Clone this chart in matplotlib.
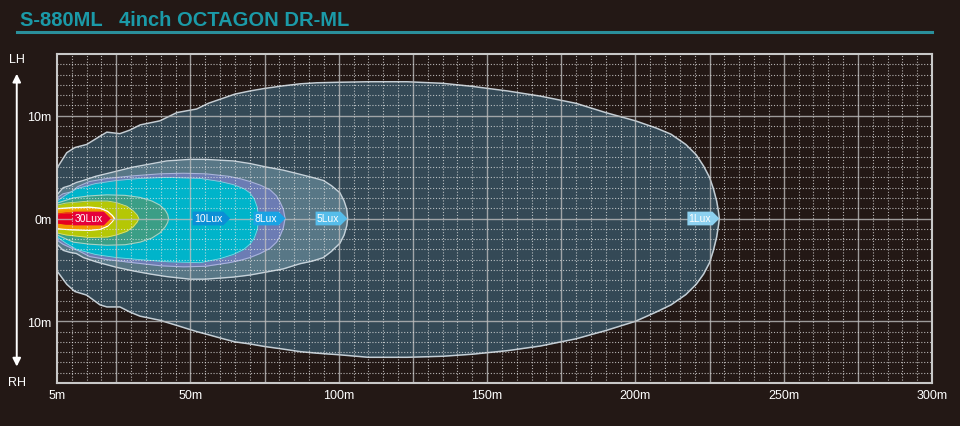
"""
Isolux chart of the S-880ML 4inch OCTAGON DR-ML lamp.
"""
import matplotlib
matplotlib.use("Agg")
import matplotlib.pyplot as plt
import numpy as np
from matplotlib.path import Path

plt.rcParams["font.family"] = ["Liberation Sans", "DejaVu Sans"]

BG = "#231815"
TEAL = "#1b9aa8"

# distance (m), left-hand (LH) and right-hand (RH) half width (m) of each isolux line
lux1_x = [5, 8.3, 11, 15, 19.5, 21.8, 26.2, 29.6, 33, 39.7, 45.4, 52.1, 56, 61, 65, 70, 75, 81.2,
          87, 92.6, 100, 110, 123, 135, 145, 157, 168, 180, 190, 200, 207, 212, 217, 220.5, 223,
          225, 226.3, 227.4, 228, 228.3]
lux1_lh = [4.9, 6.4, 6.9, 7.2, 8.0, 8.4, 8.25, 8.6, 9.1, 9.5, 10.3, 10.65, 11.2, 11.7, 12.1, 12.4,
           12.65, 12.9, 13.1, 13.2, 13.25, 13.3, 13.3, 13.15, 12.85, 12.4, 11.9, 11.2, 10.3, 9.5,
           8.8, 8.2, 7.2, 6.2, 5.1, 4.0, 2.9, 1.7, 0.7, 0]
lux1_rh = [5.1, 6.4, 7.1, 7.45, 8.4, 8.6, 8.6, 9.1, 9.5, 9.9, 10.4, 11.0, 11.3, 11.7, 12.0, 12.2,
           12.45, 12.7, 12.95, 13.1, 13.25, 13.5, 13.5, 13.4, 13.2, 12.85, 12.4, 11.7, 10.9, 10.0,
           9.1, 8.4, 7.4, 6.4, 5.4, 4.3, 3.1, 1.8, 0.7, 0]

lux5_x = [5, 7.1, 9.4, 11.5, 13.9, 18, 25.1, 30.7, 36.4, 42, 49.8, 55, 64.4, 70, 75.7, 81.3,
          86.9, 91, 94.8, 97.5, 100.4, 101.8, 102.7, 103]
lux5_lh = [2.3, 3.0, 3.2, 3.5, 3.7, 4.1, 4.6, 5.0, 5.3, 5.6, 5.75, 5.75, 5.6, 5.35, 5.0, 4.7,
           4.3, 4.0, 3.7, 3.2, 2.5, 1.7, 0.9, 0]
lux5_rh = [2.5, 3.1, 3.3, 3.4, 3.8, 4.2, 4.75, 5.1, 5.4, 5.65, 5.9, 5.9, 5.7, 5.5, 5.2, 4.9,
           4.4, 4.15, 3.8, 3.2, 2.4, 1.6, 0.7, 0]

lux8_x = [5, 7, 10, 12, 16, 22, 30.7, 40, 47.6, 55, 63, 67, 70, 73.5, 76.8, 79, 80.2, 81.3, 81.9]
lux8_lh = [2.0, 2.4, 2.6, 3.1, 3.6, 3.9, 4.15, 4.35, 4.4, 4.35, 4.1, 3.85, 3.6, 3.25, 2.8, 2.2,
           1.6, 0.9, 0]
lux8_rh = [2.1, 2.5, 2.9, 3.1, 3.7, 4.0, 4.3, 4.6, 4.7, 4.65, 4.3, 4.05, 3.8, 3.4, 2.9, 2.3,
           1.7, 0.9, 0]

lux10_x = [5, 8, 11.6, 18, 25.1, 33, 42, 53.2, 60, 64.4, 68, 70, 71.5, 72.5, 73]
lux10_lh = [1.7, 2.3, 2.9, 3.4, 3.7, 3.9, 4.0, 3.9, 3.6, 3.3, 2.9, 2.5, 1.9, 1.1, 0]
lux10_rh = [1.8, 2.4, 3.0, 3.5, 3.8, 4.0, 4.2, 4.3, 3.9, 3.5, 3.0, 2.5, 1.9, 1.1, 0]

lux15_x = [5, 10.5, 16, 21.8, 28, 33, 37, 39.7, 41.5, 42.3, 42.6]
lux15_lh = [1.5, 2.0, 2.2, 2.3, 2.25, 2.05, 1.7, 1.3, 0.8, 0.4, 0]
lux15_rh = [1.6, 2.3, 2.5, 2.6, 2.55, 2.3, 1.9, 1.4, 0.8, 0.4, 0]

lux20_x = [5, 8, 16, 22, 25, 28.5, 30.7, 32, 32.6]
lux20_lh = [1.3, 1.5, 1.7, 1.7, 1.55, 1.2, 0.75, 0.35, 0]
lux20_rh = [1.4, 1.6, 1.85, 1.8, 1.6, 1.25, 0.8, 0.35, 0]

lux25_x = [5, 10, 16, 19.5, 22, 23.6, 24.4]
lux25_lh = [0.95, 1.05, 1.1, 1.0, 0.7, 0.3, 0]
lux25_rh = [1.0, 1.1, 1.15, 1.05, 0.75, 0.3, 0]

lux27_x = [5, 10, 16, 19.5, 22, 23.4, 23.8]
lux27_lh = [0.82, 0.92, 0.97, 0.87, 0.57, 0.2, 0]
lux27_rh = [0.87, 0.97, 1.02, 0.92, 0.62, 0.2, 0]

lux30_x = [5, 8, 12, 16, 19, 20.5]
lux30_lh = [0.45, 0.55, 0.55, 0.5, 0.3, 0]
lux30_rh = [0.45, 0.55, 0.55, 0.5, 0.3, 0]

label_text = ["30Lux", "10Lux", "8Lux", "5Lux", "1Lux"]
label_tip = [23, 63.3, 81.9, 102.8, 228.2]
label_color = ["#e5003a", "#0b8fd6", "#1aa3e4", "#56bdea", "#8dd1f0"]

x_ticks = [5, 50, 100, 150, 200, 250, 300]
y_ticks = [-10, 0, 10]
y_tick_labels = ["10m", "0m", "10m"]


def pentagon(x0, y0, width, height, mutation_size):
    """Box with a pointed right end, used for the lux tags."""
    padx = 0.12 * mutation_size
    pady = 0.18 * mutation_size
    x0, y0 = x0 - padx, y0 - pady
    x1, y1 = x0 + width + 2 * padx, y0 + height + 2 * pady
    tip = 0.5 * (y1 - y0)
    return Path([(x0, y0), (x1, y0), (x1 + tip, (y0 + y1) / 2), (x1, y1), (x0, y1), (x0, y0)],
                closed=True)


layers = [
    (lux1_x, lux1_lh, lux1_rh, "#344956", "#c3cdd4", 1.1),
    (lux5_x, lux5_lh, lux5_rh, "#587786", "#c6d2da", 1.0),
    (lux8_x, lux8_lh, lux8_rh, "#6c7cb4", "#a9b3dc", 0.8),
    (lux10_x, lux10_lh, lux10_rh, "#00b4ca", "#7fd6e2", 0.6),
    (lux15_x, lux15_lh, lux15_rh, "#3b9e86", "#a6d3c6", 0.8),
    (lux20_x, lux20_lh, lux20_rh, "#b5c705", "#d8e080", 0.6),
    (lux25_x, lux25_lh, lux25_rh, "#f9d000", "#ffffff", 1.0),
    (lux27_x, lux27_lh, lux27_rh, "#f29600", "#f29600", 0.5),
    (lux30_x, lux30_lh, lux30_rh, "#e60020", "#e60020", 0.5),
]

fig = plt.figure(figsize=(9.6, 4.27), dpi=100, facecolor=BG)
ax = fig.add_axes([57 / 960, 1 - 384 / 427, 875 / 960, 329 / 427])
ax.set_facecolor(BG)
ax.set_xlim(5, 300)
ax.set_ylim(-16, 16)

for i, (x, lh, rh, fill, edge, lw) in enumerate(layers):
    x = np.asarray(x, float)
    lh = np.asarray(lh, float)
    rh = np.asarray(rh, float)
    ax.fill_between(x, -rh, lh, color=fill, lw=0, zorder=1 + i * 0.01)
    ax.plot(np.concatenate([x, x[::-1]]), np.concatenate([lh, -rh[::-1]]),
            color=edge, lw=lw, zorder=1.005 + i * 0.01, solid_joinstyle="round")

# grid on top of the light patterns
for v in np.arange(10, 300, 5):
    if v % 25:
        ax.axvline(v, color="#e6e6e6", lw=0.8, ls=(0, (1, 1.6)), alpha=0.75, zorder=2)
    else:
        ax.axvline(v, color="#bdbdbd", lw=1.0, alpha=0.8, zorder=2)
for v in np.arange(-15, 16, 1):
    if v % 10:
        ax.axhline(v, color="#e6e6e6", lw=0.8, ls=(0, (1, 1.6)), alpha=0.75, zorder=2)
    else:
        ax.axhline(v, color="#bdbdbd", lw=1.0, alpha=0.8, zorder=2)

for text, tip, color in zip(label_text, label_tip, label_color):
    ax.annotate(text, xy=(tip, 0), xytext=(-5.6, 0), textcoords="offset points",
                ha="right", va="center", fontsize=7.5, color="white", zorder=5,
                bbox=dict(boxstyle=pentagon, fc=color, ec="none"))

ax.set_xticks(x_ticks)
ax.set_xticklabels([f"{v}m" for v in x_ticks])
ax.set_yticks(y_ticks)
ax.set_yticklabels(y_tick_labels)
ax.tick_params(colors="white", labelcolor="white", length=0, labelsize=9, pad=4)
for spine in ax.spines.values():
    spine.set_color("#c8c8c8")
    spine.set_linewidth(1.5)
    spine.set_zorder(3)

# LH / RH direction arrow
ax.annotate("", xy=(-0.046, 0.94), xytext=(-0.046, 0.05), xycoords="axes fraction",
            arrowprops=dict(arrowstyle="<|-|>", color="white", lw=1.4,
                            mutation_scale=12, shrinkA=0, shrinkB=0),
            annotation_clip=False)
ax.text(-0.046, 0.985, "LH", transform=ax.transAxes, ha="center", va="center",
        color="white", fontsize=9)
ax.text(-0.046, 0.003, "RH", transform=ax.transAxes, ha="center", va="center",
        color="white", fontsize=9)

fig.text(20 / 960, 1 - 20 / 427, "S-880ML   4inch OCTAGON DR-ML", color=TEAL,
         fontsize=14.5, fontweight="bold", ha="left", va="center")
fig.add_artist(plt.Line2D([17 / 960, 932 / 960], [1 - 33 / 427, 1 - 33 / 427],
                          color="#2a8f9b", lw=2.2))

fig.savefig("out.png", dpi=100, facecolor=BG)
